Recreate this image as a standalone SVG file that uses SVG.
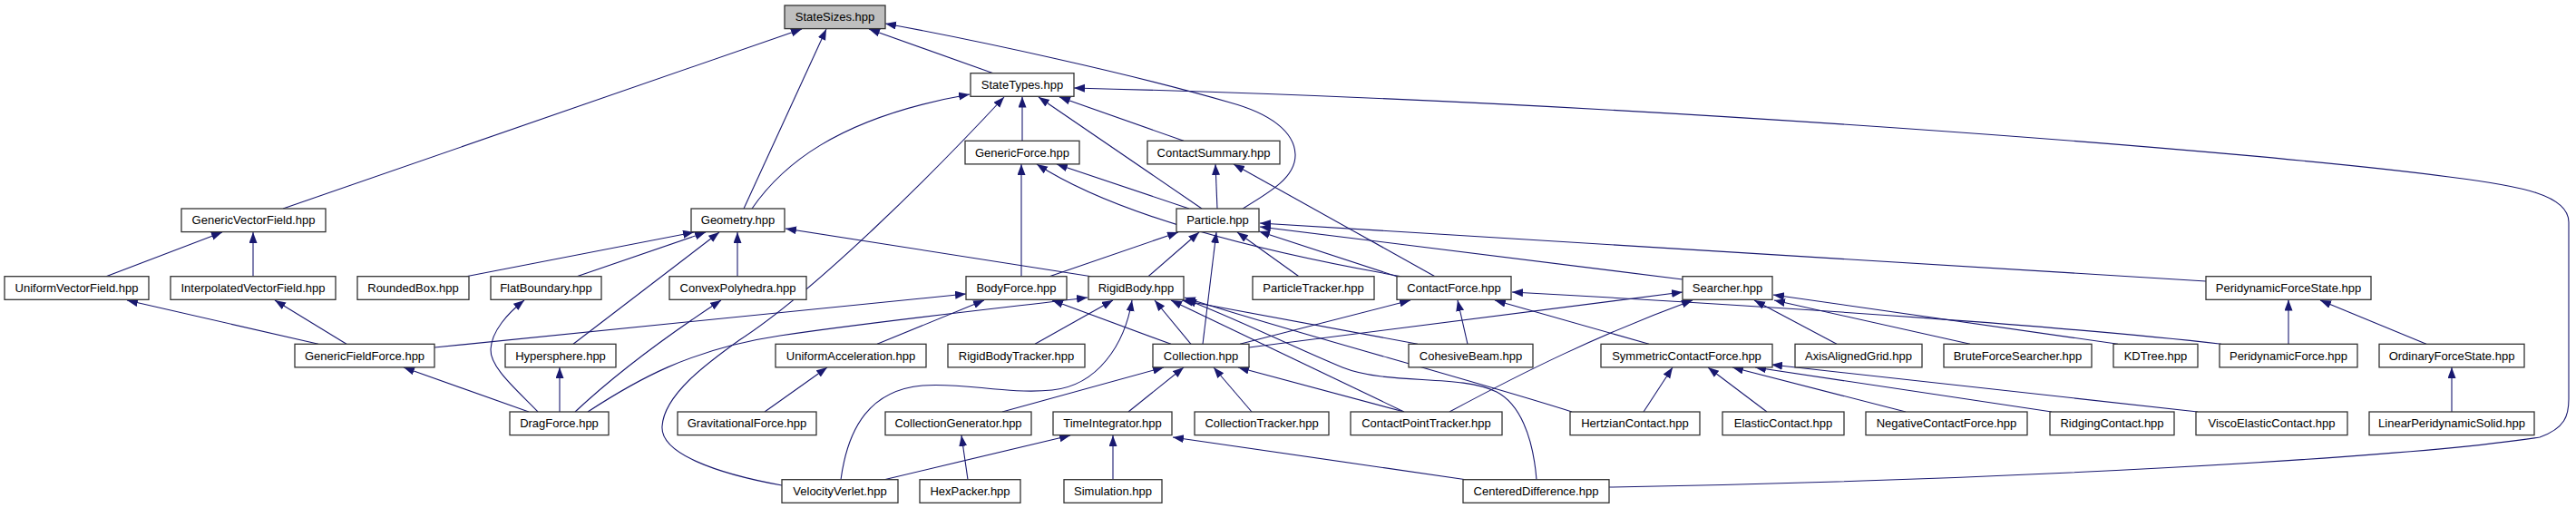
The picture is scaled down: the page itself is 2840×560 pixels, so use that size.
<svg xmlns="http://www.w3.org/2000/svg" width="2840" height="560" viewBox="0 0 2840 560">
<defs>
<marker id="a" markerUnits="userSpaceOnUse" markerWidth="14" markerHeight="11" refX="12" refY="4.5" orient="auto">
<path d="M0,0 L12,4.5 L0,9 z" fill="#191970"/>
</marker>
</defs>
<style>
.n rect{fill:#fff;stroke:#333;stroke-width:1.3}
.n text{font-family:"Liberation Sans",Arial,Helvetica,sans-serif;font-size:13px;fill:#000;text-anchor:middle}
#StateSizes rect{fill:#bfbfbf}
.e path{fill:none;stroke:#191970;stroke-width:1.1;marker-end:url(#a)}
</style>
<rect width="2840" height="560" fill="#fff"/>
<g id="edges" class="e">
<path d="M312,230 L884,32"/>
<path d="M820,230 L911,32"/>
<path d="M1095,80.7 L958,32"/>
<path d="M1370,230 C1400,212 1429,195 1428,170 C1427,145 1400,125 1356,113 C1250,82 1080,45 976,26"/>
<path d="M829,230 C860,185 920,130 1069,104"/>
<path d="M862,535 C790,522 728,500 730,470 C732,435 780,400 815,375 C900,320 1030,190 1107,107"/>
<path d="M1127,155.3 L1127,106.5"/>
<path d="M1325,230 L1145,107"/>
<path d="M1305,155.3 L1168,107"/>
<path d="M1774,537 C2200,530 2650,505 2800,482 C2828,472 2832,458 2832,440 L2832,245 C2832,215 2780,205 2700,195 C2500,168 1800,112 1184,97"/>
<path d="M1126,304.7 L1126,181"/>
<path d="M1311,230 L1165,181"/>
<path d="M1545,304.7 C1450,288 1250,250 1143,181"/>
<path d="M1342,230 L1340,181"/>
<path d="M1582,304.7 L1360,181"/>
<path d="M117,304.7 L245,256"/>
<path d="M279,304.7 L279,256"/>
<path d="M351,379.3 L140,331"/>
<path d="M382,379.3 L303,331"/>
<path d="M514,304.7 L765,256"/>
<path d="M636,304.7 L778,256"/>
<path d="M632,379.3 L793,256"/>
<path d="M813,304.7 L813,256"/>
<path d="M1203,304.7 L866,252"/>
<path d="M1157,304.7 L1299,256"/>
<path d="M1266,304.7 L1322,256"/>
<path d="M1326,379.3 L1341,256"/>
<path d="M1432,304.7 L1364,256"/>
<path d="M1540,304.7 L1388,255"/>
<path d="M1855,308 L1389,250"/>
<path d="M2432,310 L1389,246"/>
<path d="M479,383 L1065,324"/>
<path d="M967,379.3 L1085,331"/>
<path d="M1291,379.3 L1160,331"/>
<path d="M634,454 C665,425 720,380 795,331"/>
<path d="M648,454 C700,420 760,385 860,370 C960,355 1100,340 1199,328"/>
<path d="M1141,379.3 L1227,331"/>
<path d="M927,528.7 C935,470 960,430 1017,425 C1060,421 1110,435 1160,430 C1210,425 1240,380 1248,331"/>
<path d="M1313,379.3 L1273,331"/>
<path d="M1548,454 L1291,331"/>
<path d="M1563,379.3 L1303,331"/>
<path d="M1733,454 C1620,418 1420,365 1306,328"/>
<path d="M1694,528.7 C1690,480 1675,445 1650,432 C1610,412 1530,425 1480,405 C1420,380 1360,350 1307,330"/>
<path d="M1367,379.3 L1555,331"/>
<path d="M1377,383 L1855,322"/>
<path d="M1105,454 L1283,405"/>
<path d="M1244,454 L1305,405"/>
<path d="M1380,454 L1338,405"/>
<path d="M1548,454 L1365,405"/>
<path d="M1618,379.3 L1607,331"/>
<path d="M1818,379.3 L1648,331"/>
<path d="M2449,379.3 C2300,362 2000,340 1667,322"/>
<path d="M2335,379.3 L1955,325"/>
<path d="M2172,379.3 L1956,331"/>
<path d="M2025,379.3 L1934,331"/>
<path d="M1812,454 L1844,405"/>
<path d="M1948,454 L1883,405"/>
<path d="M2101,454 L1910,405"/>
<path d="M2262,454 L1935,405"/>
<path d="M2423,454 L1953,402"/>
<path d="M1598,454 C1680,410 1760,370 1866,331"/>
<path d="M2523,379.3 L2523,330.5"/>
<path d="M2675,379.3 L2558,331"/>
<path d="M2703,454 L2703,405"/>
<path d="M843,454 L912,405"/>
<path d="M1067,528.7 L1060,480"/>
<path d="M975,528.7 L1180,480"/>
<path d="M1227,528.7 L1227,480"/>
<path d="M1616,528.7 L1293,482"/>
<path d="M583,454 L445,405"/>
<path d="M593,454 C570,430 540,405 541,385 C542,365 560,345 578,331"/>
<path d="M617,454 L617,405"/>
</g>
<g id="StateSizes" class="n"><rect x="865" y="6" width="111" height="25.6"/><text x="920.5" y="23.4">StateSizes.hpp</text></g>
<g id="StateTypes" class="n"><rect x="1070" y="80.7" width="114" height="25.6"/><text x="1127" y="98.1">StateTypes.hpp</text></g>
<g id="GenericForce" class="n"><rect x="1064" y="155.3" width="126" height="25.6"/><text x="1127" y="172.7">GenericForce.hpp</text></g>
<g id="ContactSummary" class="n"><rect x="1265" y="155.3" width="146" height="25.6"/><text x="1338" y="172.7">ContactSummary.hpp</text></g>
<g id="GenericVectorField" class="n"><rect x="200" y="230" width="159" height="25.6"/><text x="279.5" y="247.4">GenericVectorField.hpp</text></g>
<g id="Geometry" class="n"><rect x="762" y="230" width="103" height="25.6"/><text x="813.5" y="247.4">Geometry.hpp</text></g>
<g id="Particle" class="n"><rect x="1297" y="230" width="91" height="25.6"/><text x="1342.5" y="247.4">Particle.hpp</text></g>
<g id="UniformVectorField" class="n"><rect x="5" y="304.7" width="159" height="25.6"/><text x="84.5" y="322.1">UniformVectorField.hpp</text></g>
<g id="InterpolatedVectorField" class="n"><rect x="188" y="304.7" width="182" height="25.6"/><text x="279" y="322.1">InterpolatedVectorField.hpp</text></g>
<g id="RoundedBox" class="n"><rect x="394" y="304.7" width="123" height="25.6"/><text x="455.5" y="322.1">RoundedBox.hpp</text></g>
<g id="FlatBoundary" class="n"><rect x="541" y="304.7" width="122" height="25.6"/><text x="602" y="322.1">FlatBoundary.hpp</text></g>
<g id="ConvexPolyhedra" class="n"><rect x="738" y="304.7" width="151" height="25.6"/><text x="813.5" y="322.1">ConvexPolyhedra.hpp</text></g>
<g id="BodyForce" class="n"><rect x="1065" y="304.7" width="111" height="25.6"/><text x="1120.5" y="322.1">BodyForce.hpp</text></g>
<g id="RigidBody" class="n"><rect x="1200" y="304.7" width="105" height="25.6"/><text x="1252.5" y="322.1">RigidBody.hpp</text></g>
<g id="ParticleTracker" class="n"><rect x="1381" y="304.7" width="134" height="25.6"/><text x="1448" y="322.1">ParticleTracker.hpp</text></g>
<g id="ContactForce" class="n"><rect x="1540" y="304.7" width="126" height="25.6"/><text x="1603" y="322.1">ContactForce.hpp</text></g>
<g id="Searcher" class="n"><rect x="1855" y="304.7" width="99" height="25.6"/><text x="1904.5" y="322.1">Searcher.hpp</text></g>
<g id="PeridynamicForceState" class="n"><rect x="2432" y="304.7" width="182" height="25.6"/><text x="2523" y="322.1">PeridynamicForceState.hpp</text></g>
<g id="GenericFieldForce" class="n"><rect x="325" y="379.3" width="154" height="25.6"/><text x="402" y="396.7">GenericFieldForce.hpp</text></g>
<g id="Hypersphere" class="n"><rect x="557" y="379.3" width="122" height="25.6"/><text x="618" y="396.7">Hypersphere.hpp</text></g>
<g id="UniformAcceleration" class="n"><rect x="855" y="379.3" width="166" height="25.6"/><text x="938" y="396.7">UniformAcceleration.hpp</text></g>
<g id="RigidBodyTracker" class="n"><rect x="1045" y="379.3" width="151" height="25.6"/><text x="1120.5" y="396.7">RigidBodyTracker.hpp</text></g>
<g id="Collection" class="n"><rect x="1271" y="379.3" width="106" height="25.6"/><text x="1324" y="396.7">Collection.hpp</text></g>
<g id="CohesiveBeam" class="n"><rect x="1553" y="379.3" width="137" height="25.6"/><text x="1621.5" y="396.7">CohesiveBeam.hpp</text></g>
<g id="SymmetricContactForce" class="n"><rect x="1765" y="379.3" width="189" height="25.6"/><text x="1859.5" y="396.7">SymmetricContactForce.hpp</text></g>
<g id="AxisAlignedGrid" class="n"><rect x="1979" y="379.3" width="140" height="25.6"/><text x="2049" y="396.7">AxisAlignedGrid.hpp</text></g>
<g id="BruteForceSearcher" class="n"><rect x="2143" y="379.3" width="163" height="25.6"/><text x="2224.5" y="396.7">BruteForceSearcher.hpp</text></g>
<g id="KDTree" class="n"><rect x="2330" y="379.3" width="93" height="25.6"/><text x="2376.5" y="396.7">KDTree.hpp</text></g>
<g id="PeridynamicForce" class="n"><rect x="2447" y="379.3" width="152" height="25.6"/><text x="2523" y="396.7">PeridynamicForce.hpp</text></g>
<g id="OrdinaryForceState" class="n"><rect x="2623" y="379.3" width="160" height="25.6"/><text x="2703" y="396.7">OrdinaryForceState.hpp</text></g>
<g id="DragForce" class="n"><rect x="562" y="454" width="109" height="25.6"/><text x="616.5" y="471.4">DragForce.hpp</text></g>
<g id="GravitationalForce" class="n"><rect x="747" y="454" width="153" height="25.6"/><text x="823.5" y="471.4">GravitationalForce.hpp</text></g>
<g id="CollectionGenerator" class="n"><rect x="976" y="454" width="161" height="25.6"/><text x="1056.5" y="471.4">CollectionGenerator.hpp</text></g>
<g id="TimeIntegrator" class="n"><rect x="1161" y="454" width="131" height="25.6"/><text x="1226.5" y="471.4">TimeIntegrator.hpp</text></g>
<g id="CollectionTracker" class="n"><rect x="1317" y="454" width="148" height="25.6"/><text x="1391" y="471.4">CollectionTracker.hpp</text></g>
<g id="ContactPointTracker" class="n"><rect x="1489" y="454" width="167" height="25.6"/><text x="1572.5" y="471.4">ContactPointTracker.hpp</text></g>
<g id="HertzianContact" class="n"><rect x="1731" y="454" width="143" height="25.6"/><text x="1802.5" y="471.4">HertzianContact.hpp</text></g>
<g id="ElasticContact" class="n"><rect x="1899" y="454" width="134" height="25.6"/><text x="1966" y="471.4">ElasticContact.hpp</text></g>
<g id="NegativeContactForce" class="n"><rect x="2057" y="454" width="178" height="25.6"/><text x="2146" y="471.4">NegativeContactForce.hpp</text></g>
<g id="RidgingContact" class="n"><rect x="2260" y="454" width="137" height="25.6"/><text x="2328.5" y="471.4">RidgingContact.hpp</text></g>
<g id="ViscoElasticContact" class="n"><rect x="2421" y="454" width="167" height="25.6"/><text x="2504.5" y="471.4">ViscoElasticContact.hpp</text></g>
<g id="LinearPeridynamicSolid" class="n"><rect x="2612" y="454" width="182" height="25.6"/><text x="2703" y="471.4">LinearPeridynamicSolid.hpp</text></g>
<g id="VelocityVerlet" class="n"><rect x="862" y="528.7" width="128" height="25.6"/><text x="926" y="546.1">VelocityVerlet.hpp</text></g>
<g id="HexPacker" class="n"><rect x="1014" y="528.7" width="111" height="25.6"/><text x="1069.5" y="546.1">HexPacker.hpp</text></g>
<g id="Simulation" class="n"><rect x="1173" y="528.7" width="108" height="25.6"/><text x="1227" y="546.1">Simulation.hpp</text></g>
<g id="CenteredDifference" class="n"><rect x="1613" y="528.7" width="161" height="25.6"/><text x="1693.5" y="546.1">CenteredDifference.hpp</text></g>
</svg>
